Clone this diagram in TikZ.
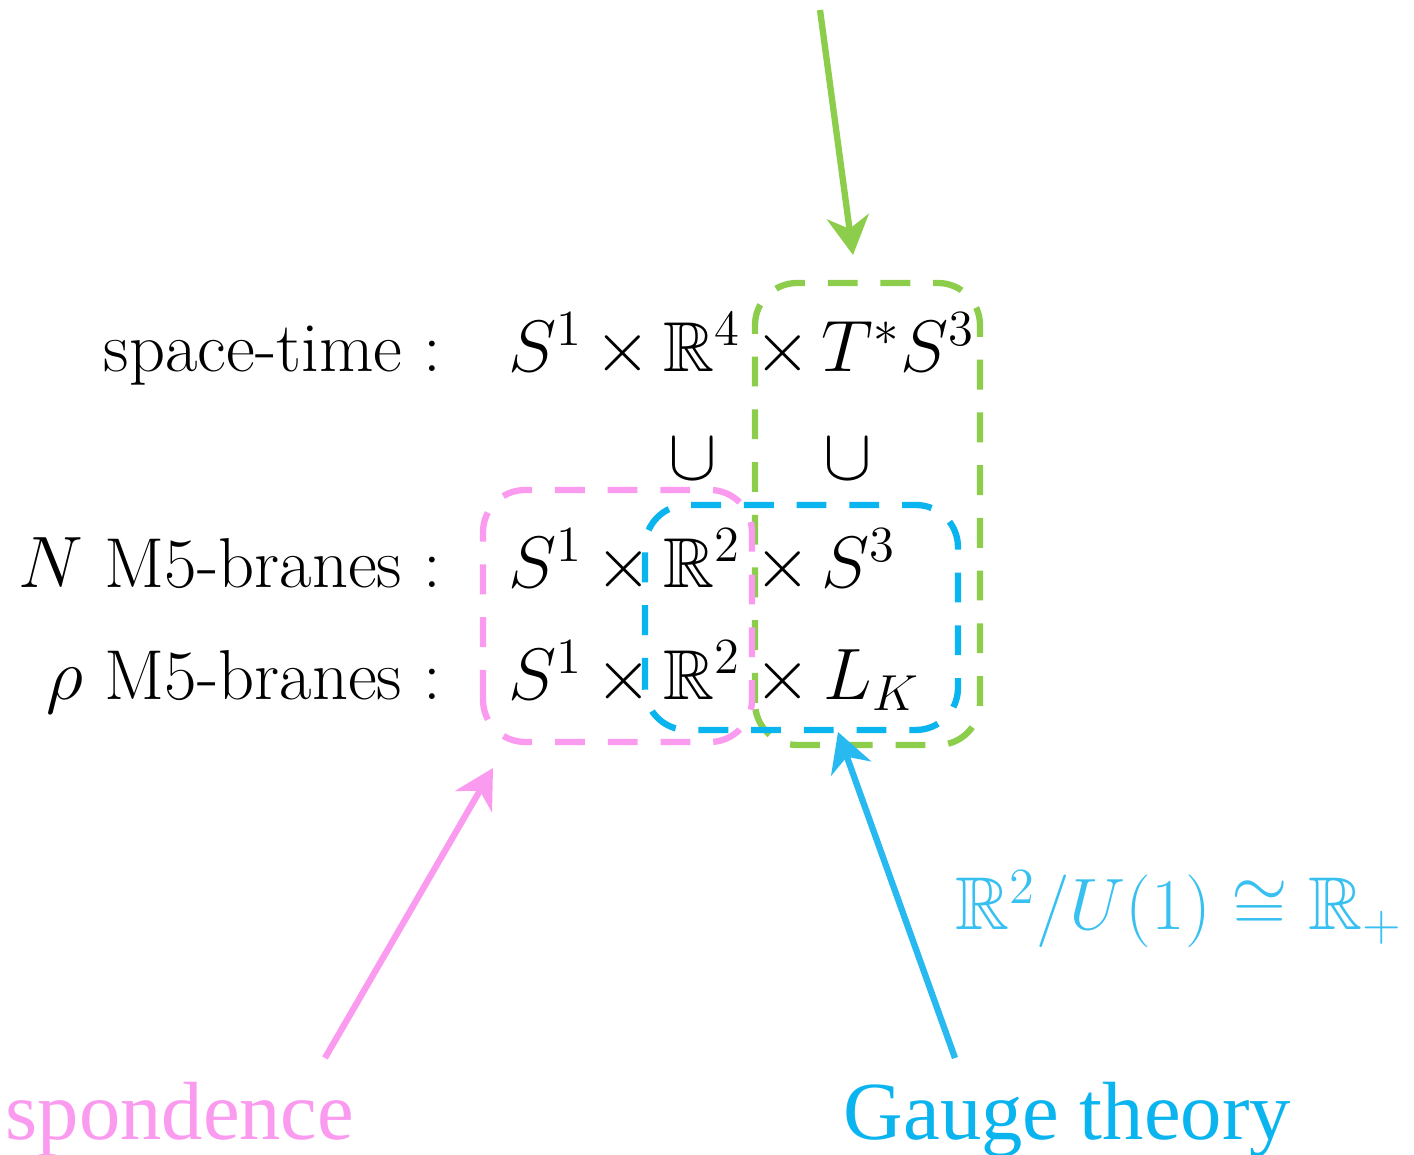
\documentclass[tikz,border=0pt]{standalone}
\usepackage{amssymb}
\usepackage{fontspec}
\newfontfamily\labelfont{Liberation Serif}
\usetikzlibrary{arrows.meta}
\definecolor{kgreen}{RGB}{140,206,75}
\definecolor{kpink}{RGB}{250,155,240}
\definecolor{kblue}{RGB}{10,180,238}
\definecolor{karrowblue}{RGB}{40,185,240}
\definecolor{ktextblue}{RGB}{55,192,240}
\tikzset{
	dbox/.style={line width=1.8pt,dash pattern=on 8.5pt off 6.5pt,rounded corners=12pt},
	karrow/.style={line width=1.8pt,-{Stealth[length=11pt,width=12pt,inset=3.5pt]}},
	rowtxt/.style={inner sep=0pt,font=\fontsize{20.1}{24}\selectfont},
	bigtxt/.style={inner sep=0pt,font=\labelfont\fontsize{23.5}{28}\selectfont}
}
\begin{document}
\begin{tikzpicture}
				\useasboundingbox (0,0) rectangle (14.14,11.55);
				\node[rowtxt,anchor=base east] (st) at (4.42,7.83) {space-time :};
				\node[rowtxt,anchor=base west] (sa) at (5.08,7.83) {$S^1$};
				\node[rowtxt,anchor=base] (xa) at (6.23,7.83) {$\times$};
				\node[rowtxt,anchor=base west] (ra) at (6.63,7.83) {$\mathbb{R}^4$};
				\node[rowtxt,anchor=base] (xb) at (7.83,7.83) {$\times$};
				\node[rowtxt,anchor=base west] (ta) at (8.21,7.83) {$T^*S^3$};
				\node[rowtxt,anchor=base] (cupa) at (6.93,6.75) {$\cup$};
				\node[rowtxt,anchor=base] (cupb) at (8.48,6.75) {$\cup$};
				\node[rowtxt,anchor=base east] (nm) at (4.42,5.67) {$N$ M5-branes :};
				\node[rowtxt,anchor=base west] (sb) at (5.08,5.67) {$S^1$};
				\node[rowtxt,anchor=base] (xc) at (6.24,5.67) {$\times$};
				\node[rowtxt,anchor=base west] (rb) at (6.63,5.67) {$\mathbb{R}^2$};
				\node[rowtxt,anchor=base] (xd) at (7.83,5.67) {$\times$};
				\node[rowtxt,anchor=base west] (tb) at (8.21,5.67) {$S^3$};
				\node[rowtxt,anchor=base east] (rm) at (4.42,4.55) {$\rho$ M5-branes :};
				\node[rowtxt,anchor=base west] (sc) at (5.08,4.55) {$S^1$};
				\node[rowtxt,anchor=base] (xe) at (6.24,4.55) {$\times$};
				\node[rowtxt,anchor=base west] (rc) at (6.63,4.55) {$\mathbb{R}^2$};
				\node[rowtxt,anchor=base] (xf) at (7.83,4.55) {$\times$};
				\node[rowtxt,anchor=base west] (tc) at (8.23,4.55) {$L_K$};
				\draw[dbox,kgreen] (7.55,4.10) rectangle (9.80,8.72);
				\draw[dbox,kpink] (4.83,4.13) rectangle (7.52,6.65);
				\draw[dbox,kblue] (6.45,4.25) rectangle (9.58,6.50);
				\node[inner sep=0pt,anchor=base west,text=ktextblue,font=\fontsize{21.3}{26}\selectfont] (quot) at (9.55,2.25) {$\mathbb{R}^2/U(1)\cong\mathbb{R}_+$};
				\node[bigtxt,anchor=base west,text=kpink] (corr) at (0.05,0.15) {spondence};
				\node[bigtxt,anchor=base west,text=kblue] (gauge) at (8.43,0.15) {Gauge theory};
				\coordinate (gtail) at (8.20,11.45);
				\coordinate (gtip) at (8.53,9.00);
				\coordinate (ptail) at (3.25,0.97);
				\coordinate (ptip) at (4.93,3.87);
				\coordinate (btail) at (9.55,0.97);
				\coordinate (btip) at (8.38,4.23);
				\draw[karrow,kgreen] (gtail)--(gtip);
				\draw[karrow,kpink] (ptail)--(ptip);
				\draw[karrow,karrowblue] (btail)--(btip);
			\end{tikzpicture}
\end{document}
